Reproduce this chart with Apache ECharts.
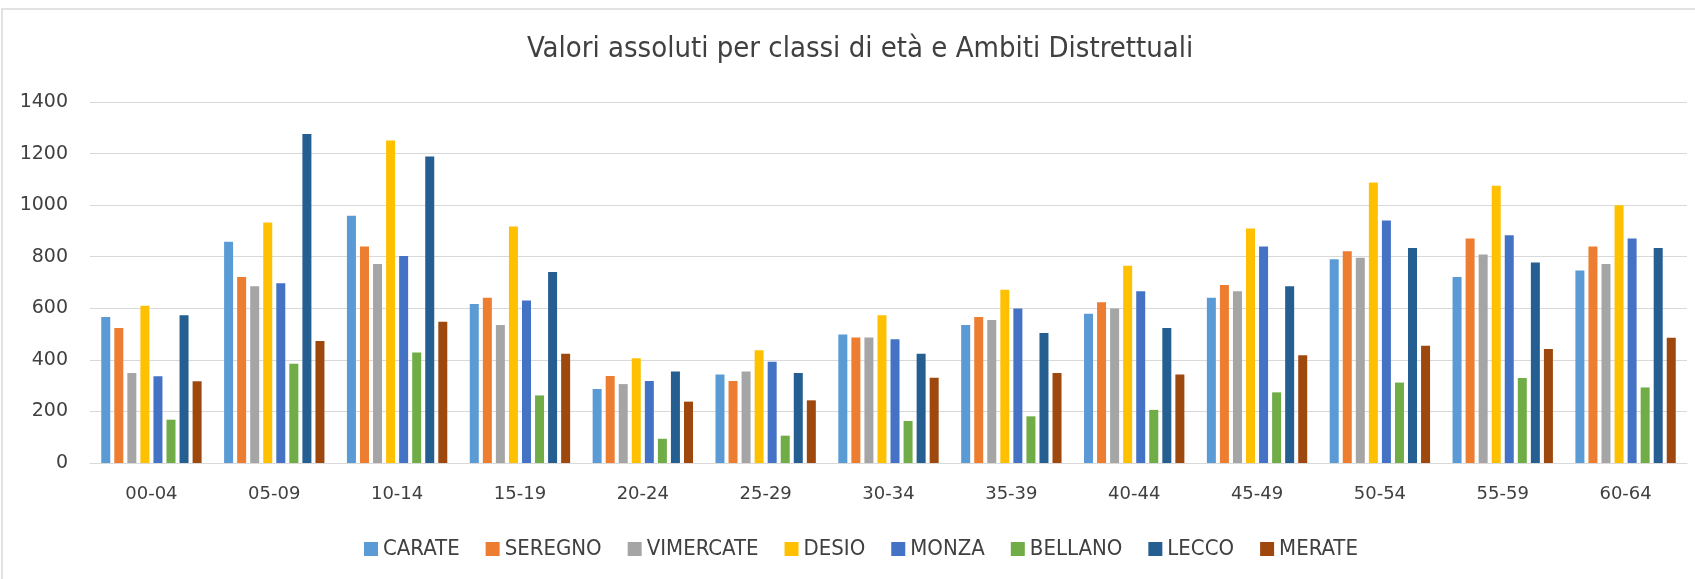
<!DOCTYPE html>
<html>
<head>
<meta charset="utf-8">
<title>Valori assoluti per classi di età e Ambiti Distrettuali</title>
<script src="https://cdn.jsdelivr.net/npm/echarts@6/dist/echarts.min.js"></script>
<style>
    html, body { margin: 0; padding: 0; background: #fff; }
    #chart { width: 1695px; height: 579px; }
</style>
</head>
<body>
<div id="chart"></div>
<script>
// classi di età
var categories = ['00-04', '05-09', '10-14', '15-19', '20-24', '25-29', '30-34', '35-39', '40-44', '45-49', '50-54', '55-59', '60-64'];
var yTicks = [0, 200, 400, 600, 800, 1000, 1200, 1400];

// valori per ambito distrettuale
var carate    = [566, 858, 959, 617, 287, 343, 498, 535, 579, 641, 790, 721, 747];
var seregno   = [524, 721, 840, 641, 337, 318, 487, 566, 623, 690, 821, 871, 840];
var vimercate = [349, 685, 772, 535, 306, 355, 487, 555, 599, 666, 796, 809, 772];
var desio     = [610, 933, 1251, 917, 406, 437, 573, 672, 765, 909, 1088, 1075, 1000];
var monza     = [336, 697, 803, 630, 318, 393, 480, 599, 666, 840, 940, 883, 871];
var bellano   = [168, 385, 429, 262, 94, 106, 163, 181, 206, 274, 312, 330, 293];
var lecco     = [573, 1276, 1189, 741, 355, 349, 424, 504, 524, 685, 834, 778, 834];
var merate    = [317, 473, 548, 424, 238, 243, 331, 349, 343, 418, 455, 442, 486];

var seriesNames = ['CARATE', 'SEREGNO', 'VIMERCATE', 'DESIO', 'MONZA', 'BELLANO', 'LECCO', 'MERATE'];
var seriesValues = [carate, seregno, vimercate, desio, monza, bellano, lecco, merate];
var colors = ['#5B9BD5', '#ED7D31', '#A5A5A5', '#FFC000', '#4472C4', '#70AD47', '#255E91', '#9E480E'];

var narrowFont = "'Liberation Sans Narrow', 'DejaVu Sans Condensed', 'DejaVu Sans', sans-serif";
var axisFont = "'DejaVu Sans', sans-serif";

var chart = echarts.init(document.getElementById('chart'));

var series = [];
for (var i = 0; i < seriesNames.length; i++) {
    series.push({
        name: seriesNames[i],
        type: 'bar',
        data: seriesValues[i],
        barWidth: 9,
        barGap: '45%',
        itemStyle: { color: colors[i] }
    });
}

var option = {
    animation: false,
    backgroundColor: '#fff',
    color: colors,
    // cornice del grafico
    graphic: [{
        type: 'rect',
        shape: { x: 2, y: 9, width: 1720, height: 600 },
        style: { fill: 'none', stroke: '#d9d9d9', lineWidth: 1.5 },
        silent: true
    }],
    title: {
        text: 'Valori assoluti per classi di età e Ambiti Distrettuali',
        left: 527,
        top: 35,
        padding: 0,
        textStyle: {
            fontFamily: narrowFont,
            fontSize: 29,
            fontWeight: 'normal',
            color: '#404040'
        }
    },
    legend: {
        data: seriesNames,
        top: 533,
        left: 359,
        icon: 'rect',
        itemWidth: 14,
        itemHeight: 14,
        itemGap: 26,
        textStyle: {
            fontFamily: narrowFont,
            fontSize: 22,
            color: '#404040'
        }
    },
    grid: {
        left: 90,
        right: 8,
        top: 102,
        bottom: 116
    },
    xAxis: {
        type: 'category',
        data: categories,
        axisLine: { show: true, lineStyle: { color: '#d9d9d9', width: 1 } },
        axisTick: { show: false },
        axisLabel: {
            fontFamily: axisFont,
            fontSize: 18,
            color: '#404040',
            margin: 22
        }
    },
    yAxis: {
        type: 'value',
        min: yTicks[0],
        max: yTicks[yTicks.length - 1],
        interval: yTicks[1] - yTicks[0],
        axisLine: { show: false },
        axisTick: { show: false },
        splitLine: { lineStyle: { color: '#d9d9d9', width: 1 } },
        axisLabel: {
            fontFamily: axisFont,
            fontSize: 19,
            color: '#404040',
            margin: 22,
            formatter: function (v) { return String(v); }
        }
    },
    series: series
};

chart.setOption(option);
</script>
</body>
</html>
